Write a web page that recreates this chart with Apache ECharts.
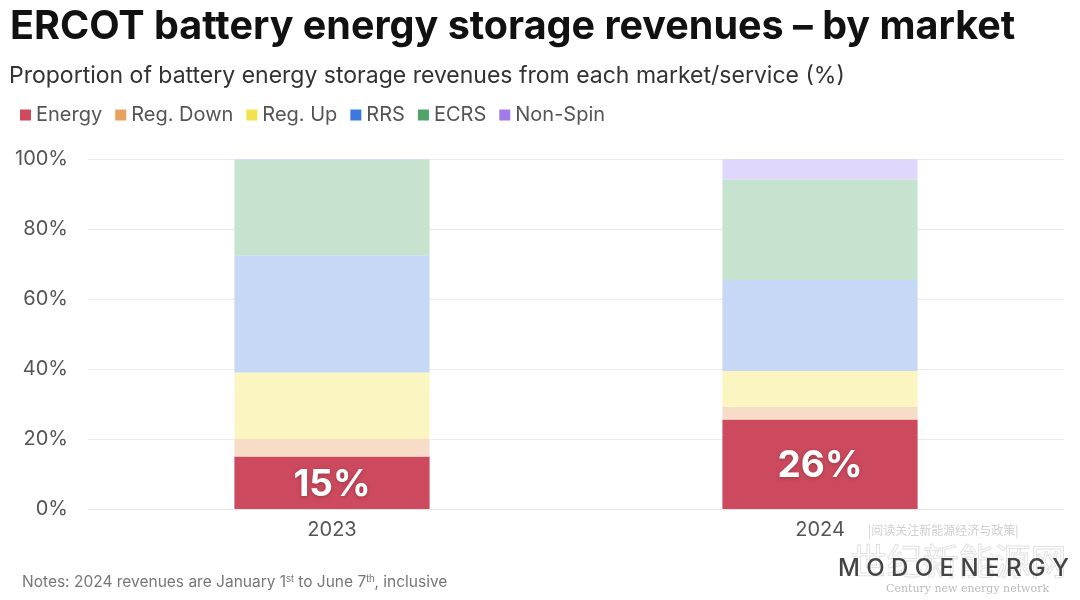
<!DOCTYPE html>
<html><head><meta charset="utf-8">
<script src="https://cdn.jsdelivr.net/npm/echarts@6/dist/echarts.min.js"></script>
<style>html,body{margin:0;padding:0;background:#fff}#c{width:1080px;height:600px}</style>
</head><body><div id="c"></div>
<script>
const categories = ['2023', '2024'];
const energy = [15, 25.6];
const regDown = [5, 3.6];
const regUp = [19, 10.2];
const rrs = [33.5, 26];
const ecrs = [27.2, 28.8];
const nonSpin = [0.3, 5.8];
const yTicks = [0, 20, 40, 60, 80, 100];

const seriesNames = ['Energy', 'Reg. Down', 'Reg. Up', 'RRS', 'ECRS', 'Non-Spin'];
const seriesData = [energy, regDown, regUp, rrs, ecrs, nonSpin];
const fillColors = ['#CD4A5E', '#F7DDC7', '#FBF6C1', '#C6D8F5', '#C6E3D0', '#E1D6FB'];
const legendColors = ['#D04A5E', '#E9A15F', '#F3E24C', '#3B78E3', '#4FA36B', '#A27BEA'];
const FONT = 'Inter, "Noto Sans", sans-serif';

const chart = echarts.init(document.getElementById('c'));
chart.setOption({
  backgroundColor: '#fff',
  animation: false,
  textStyle: { fontFamily: FONT },
  title: [
    { text: 'ERCOT battery energy storage revenues \u2013 by market', left: 5, top: 2,
      textStyle: { fontFamily: FONT, fontSize: 39.5, fontWeight: 'bold', color: '#111' } },
    { text: 'Proportion of battery energy storage revenues from each market/service (%)', left: 4, top: 60,
      textStyle: { fontFamily: FONT, fontSize: 23, fontWeight: 'normal', color: '#333' } }
  ],
  legend: {
    left: 15, top: 100, itemWidth: 11, itemHeight: 11, itemGap: 13,
    icon: 'rect',
    textStyle: { fontFamily: FONT, fontSize: 20, color: '#555' },
    data: seriesNames.map((n, i) => ({ name: n, itemStyle: { color: legendColors[i] } }))
  },
  grid: { left: 88, right: 16, top: 159, bottom: 91 },
  xAxis: {
    type: 'category', data: categories,
    axisLine: { lineStyle: { color: '#e6e6e6' } },
    axisTick: { show: false },
    axisLabel: { fontFamily: FONT, fontSize: 20, color: '#555', margin: 11 }
  },
  yAxis: {
    type: 'value', min: yTicks[0], max: yTicks[yTicks.length - 1], interval: 20,
    axisLine: { show: false }, axisTick: { show: false },
    splitLine: { lineStyle: { color: '#ececec' } },
    axisLabel: { fontFamily: FONT, fontSize: 20, color: '#555', margin: 20, formatter: v => v + '%' }
  },
  series: seriesNames.map((n, i) => ({
    name: n, type: 'bar', stack: 'total', barWidth: '40%',
    data: seriesData[i],
    itemStyle: { color: fillColors[i] },
    label: i === 0 ? {
      show: true, position: 'inside', color: '#fff', fontFamily: FONT, fontSize: 37, fontWeight: 'bold',
      formatter: p => Math.round(p.value) + '%', offset: [0, 2],
      textShadowColor: 'rgba(0,0,0,0.25)', textShadowBlur: 4, textShadowOffsetY: 1
    } : { show: false }
  })),
  graphic: [
    { type: 'text', left: 22, top: 574,
      style: {
        text: 'Notes: 2024 revenues are January 1{s|st} to June 7{s|th}, inclusive',
        font: '15.5px ' + FONT, fill: '#777',
        rich: { s: { fontSize: 10, verticalAlign: 'top', fill: '#777', padding: [0, 0, 7, 0] } }
      } },
    { type: 'text', left: 850, top: 543, z: 1,
      style: { text: '世纪新能源网', font: '36px "Noto Sans CJK SC"', fill: 'rgba(0,0,0,0)', stroke: '#e2e2e2', lineWidth: 1 } },
    { type: 'text', left: 868, top: 524, z: 5,
      style: { text: '|阅读关注新能源经济与政策|', font: '12px "Noto Sans CJK SC"', fill: '#cfcfcf' } },
    { type: 'text', left: 838, top: 557, z: 10,
      style: { text: 'M O D O E N E R G Y', font: '500 24px ' + FONT, fill: '#444' } },
    { type: 'text', left: 886, top: 584, z: 5,
      style: { text: 'Century new energy network', font: '11px "DejaVu Serif", serif', fill: '#bbb' } }
  ]
});
</script></body></html>
